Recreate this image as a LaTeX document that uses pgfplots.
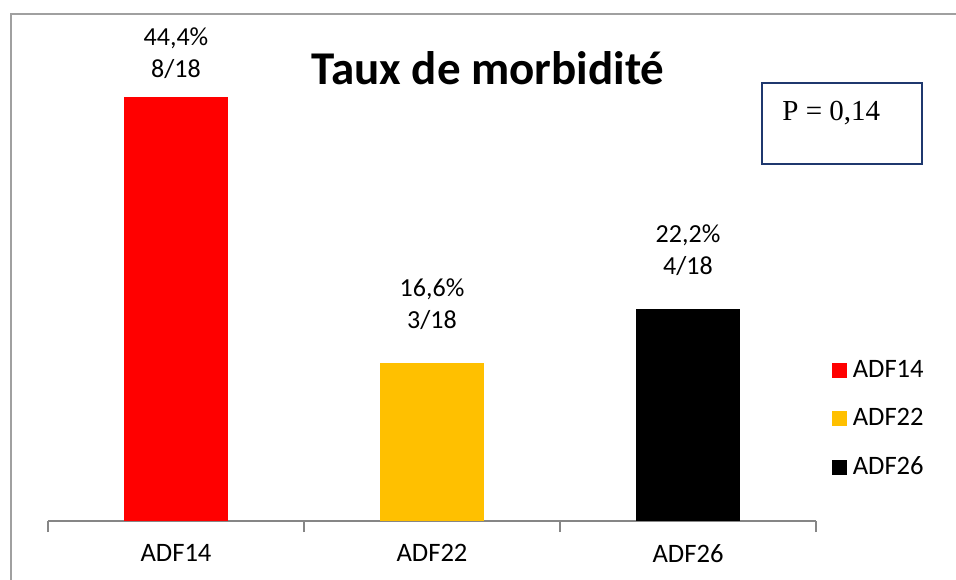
\documentclass[border=0pt]{standalone}
\usepackage{pgfplots}
\pgfplotsset{compat=1.18}
\usepackage{fontspec}
\setmainfont{Carlito}
\newfontfamily\timesfont{Liberation Serif}
\definecolor{adfred}{RGB}{255,0,0}
\definecolor{adfyellow}{RGB}{255,192,0}
\definecolor{framegray}{RGB}{160,160,160}
\definecolor{axisgray}{RGB}{134,134,134}
\definecolor{pnavy}{RGB}{31,56,110}

\pgfplotsset{
  mybar/.style={ybar, bar width=52pt, bar shift=0pt, draw=none, fill=#1,
    legend image code/.code={\fill[##1] (0pt,-3.75pt) rectangle (7.5pt,3.75pt);}},
}

\begin{document}
\begin{tikzpicture}
% page = 956x579 px at 0.5pt per px
\useasboundingbox (0pt,0pt) rectangle (478pt,289.5pt);
\draw[framegray, line width=1pt] (5.5pt,282.5pt) rectangle (520pt,-30pt);

\begin{axis}[
    at={(24pt,29pt)}, anchor=south west,
    scale only axis, width=384pt, height=238.5pt,
    xmin=-0.5, xmax=2.5, ymin=0, ymax=50,
    axis x line*=bottom, axis y line=none,
    x axis line style={axisgray, line width=0.75pt},
    xtick={0,1,2}, xticklabels={ADF14,ADF22,ADF26},
    major tick length=0pt,
    minor xtick={-0.5,0.5,1.5,2.5},
    minor tick length=5.5pt, tick align=outside,
    minor tick style={axisgray, line width=0.75pt},
    ytick=\empty,
    clip=false,
    font=\fontsize{13}{16}\selectfont,
    xticklabel style={font=\fontsize{13.3}{16}\selectfont, yshift=-8pt},
    nodes near coords style={align=center, font=\fontsize{13}{16}\selectfont,
                             inner sep=0pt, yshift=16.5pt, black},
    legend style={draw=none, fill=none, at={(1.02,0.214)}, anchor=west,
                  font=\fontsize{13.3}{16}\selectfont, cells={anchor=west},
                  row sep=10pt, inner sep=0pt,
                  nodes={inner xsep=3pt}},
  ]

% red bar reaches the top, its label sits closer to it
\addplot[mybar=adfred, nodes near coords={44,4\%\\8/18},
         nodes near coords style={yshift=-7.5pt}] coordinates {(0,44.4)};
\addlegendentry{ADF14}

\addplot[mybar=adfyellow, nodes near coords={16,6\%\\3/18}] coordinates {(1,16.6)};
\addlegendentry{ADF22}

\addplot[mybar=black, nodes near coords={22,2\%\\4/18}] coordinates {(2,22.2)};
\addlegendentry{ADF26}

\end{axis}

\node[font=\fontsize{23.5}{28}\selectfont\bfseries] at (244pt,255.5pt) {Taux de morbidité};
\draw[pnavy, line width=1pt] (381pt,248pt) rectangle (461pt,207.5pt);
\node[anchor=west, inner sep=0pt, font=\timesfont\fontsize{14.5}{17}\selectfont] at (391pt,233pt) {P = 0,14};
\end{tikzpicture}
\end{document}
